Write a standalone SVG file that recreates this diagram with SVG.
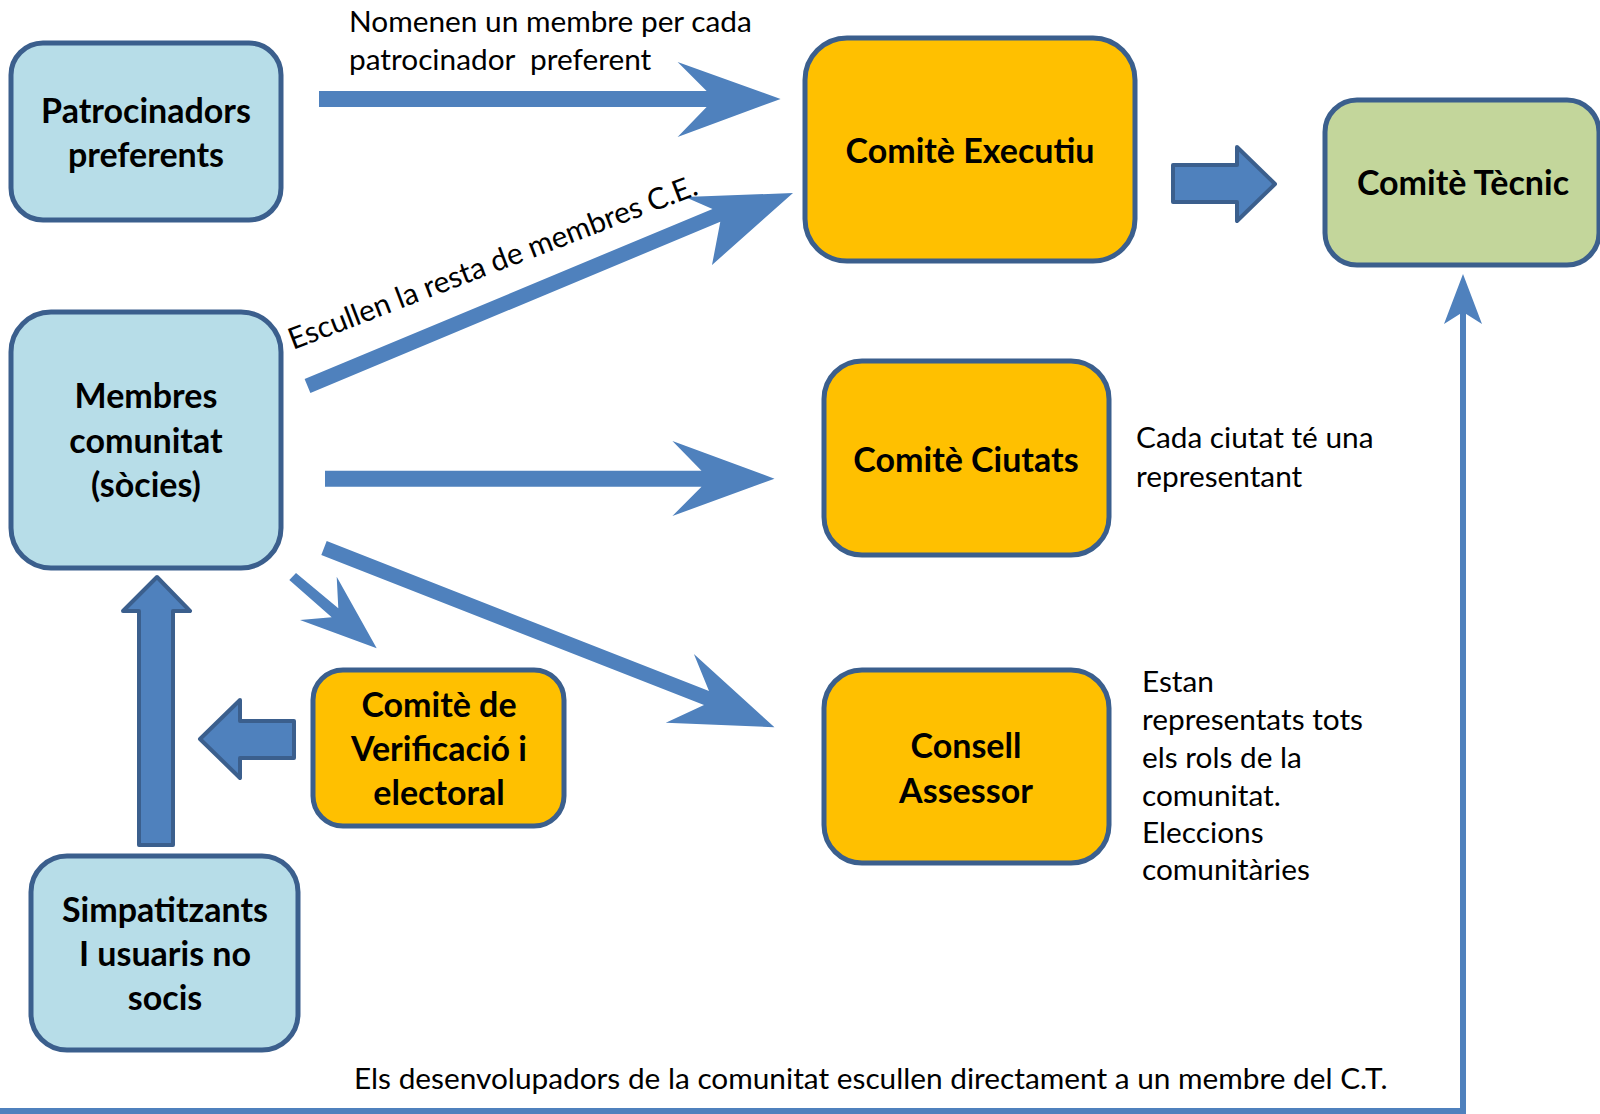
<svg xmlns="http://www.w3.org/2000/svg" width="1600" height="1114" viewBox="0 0 1600 1114">
<style>
.node rect{stroke:#3b5f8d;stroke-width:5}
.blue rect{fill:#b7dde8}
.orange rect{fill:#ffc000}
.green rect{fill:#c3d69b}
.lbl{font-family:Lato,"Open Sans",sans-serif;font-weight:bold;font-size:34px;fill:#000;text-anchor:middle}
.txt{font-family:Lato,"Open Sans",sans-serif;font-size:29.8px;fill:#000;white-space:pre}
.arr{fill:#4f81bd}
.blk{fill:#4f81bd;stroke:#3b5f8d;stroke-width:4;stroke-linejoin:round}
.line{fill:none;stroke:#4f81bd;stroke-width:6}
</style>
<rect width="1600" height="1114" fill="#fff"/>
<g id="connectors">
<polygon class="arr" points="319,91 706.6,91 677.6,62 780.6,99 677.6,137 706.6,107 319,107"/>
<polygon class="arr" points="304.6,379.1 712.5,208.9 685,197 793,193 712,265 720.3,221.8 310.4,392.9"/>
<polygon class="arr" points="325,470.7 701.5,470.7 672.4,441 774.5,478.7 672.4,516 701.5,486.7 325,486.7"/>
<polygon class="arr" points="326.7,541 709,691 693.9,654 774.5,727.3 665.8,722.7 704,705 321.3,555"/>
<polygon class="arr" points="296,573 338.3,608.3 336.7,576.7 376.7,648.3 300,620 331.7,617.3 289.3,580"/>
<polygon class="blk" points="1173,165 1237,165 1237,147 1275,184 1237,221 1237,202 1173,202"/>
<polygon class="blk" points="139,845 139,611 123,611 157,577 190,611 173,611 173,845"/>
<polygon class="blk" points="294,721 240,721 240,700 200,739 240,778 240,758 294,758"/>
<polyline class="line" points="0,1111 1463,1111 1463,305"/>
<polygon class="arr" points="1463,274 1482,324 1463,312 1444,324"/>
</g>
<g id="n-patrocinadors" class="node blue">
<rect x="11" y="43" width="270" height="177" rx="32"/>
<text class="lbl"><tspan x="146" y="123">Patrocinadors</tspan><tspan x="146" y="167">preferents</tspan></text>
</g>
<g id="n-membres" class="node blue">
<rect x="11" y="312" width="270" height="256" rx="40"/>
<text class="lbl"><tspan x="146" y="408">Membres</tspan><tspan x="146" y="453">comunitat</tspan><tspan x="146" y="497">(sòcies)</tspan></text>
</g>
<g id="n-simpatitzants" class="node blue">
<rect x="31" y="856" width="267" height="194" rx="36"/>
<text class="lbl"><tspan x="165" y="922">Simpatitzants</tspan><tspan x="165" y="966">I usuaris no</tspan><tspan x="165" y="1010">socis</tspan></text>
</g>
<g id="n-verificacio" class="node orange">
<rect x="313" y="670" width="251" height="156" rx="30"/>
<text class="lbl"><tspan x="439" y="717">Comitè de</tspan><tspan x="439" y="761">Verificació i</tspan><tspan x="439" y="805">electoral</tspan></text>
</g>
<g id="n-executiu" class="node orange">
<rect x="805" y="38" width="330" height="223" rx="42"/>
<text class="lbl" x="970" y="163">Comitè Executiu</text>
</g>
<g id="n-tecnic" class="node green">
<rect x="1325" y="100" width="274" height="165" rx="32"/>
<text class="lbl" x="1463" y="195">Comitè Tècnic</text>
</g>
<g id="n-ciutats" class="node orange">
<rect x="824" y="361" width="285" height="194" rx="38"/>
<text class="lbl" x="966" y="472">Comitè Ciutats</text>
</g>
<g id="n-consell" class="node orange">
<rect x="824" y="670" width="285" height="193" rx="38"/>
<text class="lbl"><tspan x="966" y="758">Consell</tspan><tspan x="966" y="803">Assessor</tspan></text>
</g>
<g id="labels">
<text class="txt"><tspan x="349" y="32">Nomenen un membre per cada</tspan><tspan x="349" y="70">patrocinador  preferent</tspan></text>
<text class="txt" x="293" y="350" transform="rotate(-21 293 350)">Escullen la resta de membres C.E.</text>
<text class="txt"><tspan x="1136" y="448">Cada ciutat té una</tspan><tspan x="1136" y="487">representant</tspan></text>
<text class="txt"><tspan x="1142" y="692">Estan</tspan><tspan x="1142" y="730">representats tots</tspan><tspan x="1142" y="768">els rols de la</tspan><tspan x="1142" y="806">comunitat.</tspan><tspan x="1142" y="843">Eleccions</tspan><tspan x="1142" y="880">comunitàries</tspan></text>
<text class="txt" x="354" y="1089">Els desenvolupadors de la comunitat escullen directament a un membre del C.T.</text>
</g>
</svg>
